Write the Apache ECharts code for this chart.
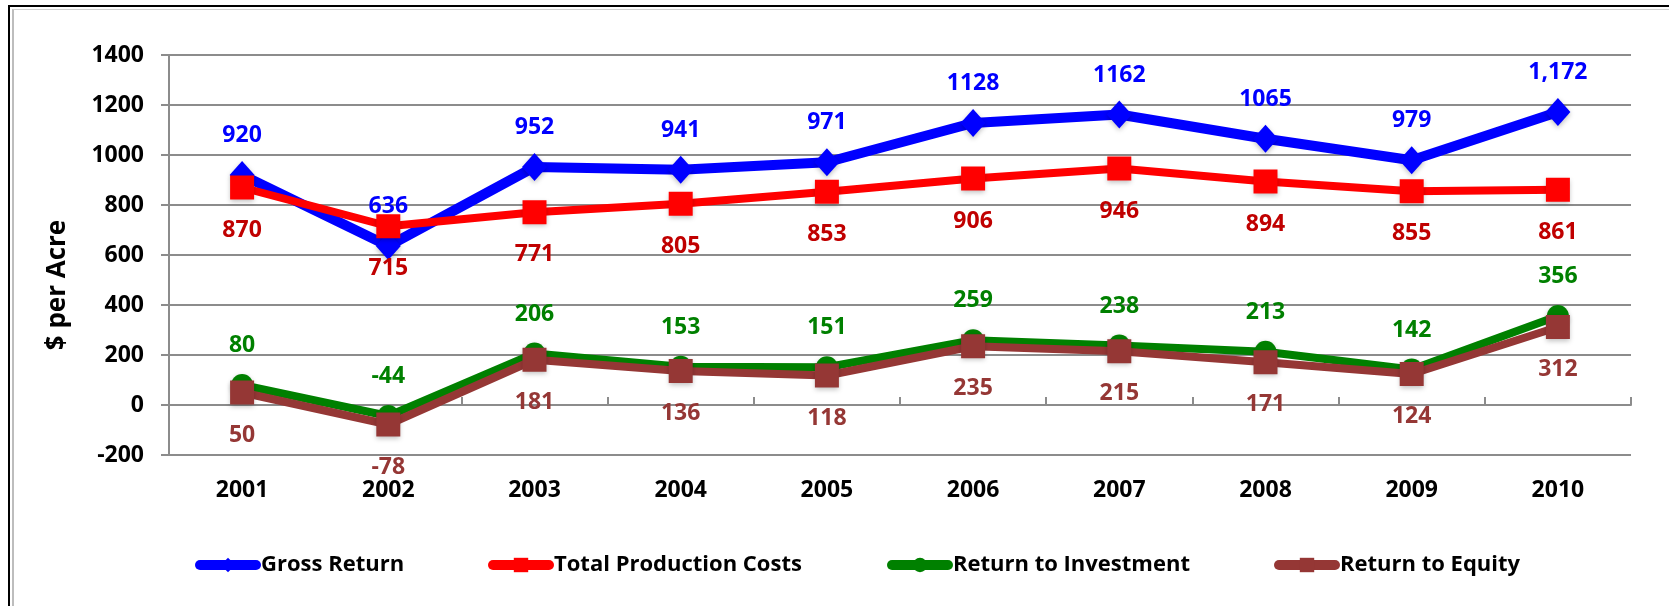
<!DOCTYPE html>
<html>
<head>
<meta charset="utf-8">
<script src="https://cdn.jsdelivr.net/npm/echarts@6/dist/echarts.min.js"></script>
<style>
  html, body { margin: 0; padding: 0; background: #fff; }
  #main { width: 1669px; height: 606px; }
  .frame { position: absolute; pointer-events: none; }
  #outer { left: 8px; top: 5px; width: 1700px; height: 700px; border-left: 2.5px solid #000; border-top: 2px solid #000; }
  #inner { left: 12px; top: 9px; width: 1700px; height: 700px; border-left: 2px solid #bdbdbd; border-top: 1px solid #d0d0d0; }
</style>
</head>
<body>
<div id="main"></div>
<div id="outer" class="frame"></div>
<div id="inner" class="frame"></div>
<script>
// 每亩收益与成本 2001-2010
var years = ['2001', '2002', '2003', '2004', '2005', '2006', '2007', '2008', '2009', '2010'];
var grossReturn = [920, 636, 952, 941, 971, 1128, 1162, 1065, 979, 1172];
var grossLabels = ['920', '636', '952', '941', '971', '1128', '1162', '1065', '979', '1,172'];
var productionCosts = [870, 715, 771, 805, 853, 906, 946, 894, 855, 861];
var returnInvestment = [80, -44, 206, 153, 151, 259, 238, 213, 142, 356];
var returnEquity = [50, -78, 181, 136, 118, 235, 215, 171, 124, 312];

var font = '"Open Sans", Lato, sans-serif';
var gridGray = '#8c8c8c';

var chartDom = document.getElementById('main');
var myChart = echarts.init(chartDom);

function mkLegend(name, left, color) {
  return {
    data: [name],
    left: left,
    top: 554,
    padding: 0,
    itemWidth: 56,
    itemHeight: 18,
    itemGap: 0,
    lineStyle: { width: 10, color: color, cap: 'round' },
    textStyle: { fontFamily: font, fontWeight: 'bold', fontSize: 22, color: '#000' }
  };
}

function mkLabel(color, pos, dist) {
  return {
    show: true,
    position: pos,
    distance: dist,
    color: color,
    fontFamily: font,
    fontWeight: 'bold',
    fontSize: 23
  };
}

var shadow = { shadowColor: 'rgba(0,0,0,0.25)', shadowBlur: 5, shadowOffsetY: 2 };

var option = {
  animation: false,
  grid: { left: 169, right: 38, top: 55, bottom: 151 },
  legend: [
    mkLegend('Gross Return', 195, '#0000ff'),
    mkLegend('Total Production Costs', 488, '#ff0000'),
    mkLegend('Return to Investment', 887, '#008000'),
    mkLegend('Return to Equity', 1274, '#953735')
  ],
  xAxis: [
    {
      type: 'category',
      data: years,
      axisLine: { show: false, onZero: false },
      axisTick: { show: false },
      axisLabel: { margin: 24, color: '#000', fontFamily: font, fontWeight: 'bold', fontSize: 23 }
    },
    {
      type: 'category',
      data: years,
      axisLine: { show: true, onZero: true, lineStyle: { color: gridGray, width: 2 } },
      axisTick: { show: true, length: 8, lineStyle: { color: gridGray, width: 2 } },
      axisLabel: { show: false }
    }
  ],
  yAxis: {
    type: 'value',
    min: -200,
    max: 1400,
    interval: 200,
    name: '$ per Acre',
    nameLocation: 'middle',
    nameGap: 98,
    nameRotate: 90,
    nameTextStyle: { color: '#000', fontFamily: font, fontWeight: 'bold', fontSize: 26, padding: [0, 60, 0, 0] },
    axisLine: { show: true, lineStyle: { color: gridGray, width: 2 } },
    axisTick: { show: true, length: 8, lineStyle: { color: gridGray, width: 2 } },
    axisLabel: {
      margin: 25, color: '#000', fontFamily: font, fontWeight: 'bold', fontSize: 23,
      formatter: function (v) { return String(v); }
    },
    splitLine: { lineStyle: { color: gridGray, width: 2 } }
  },
  series: [
    {
      name: 'Gross Return',
      type: 'line',
      data: grossReturn,
      symbol: 'diamond',
      symbolSize: [25, 28],
      lineStyle: { color: '#0000ff', width: 10 },
      itemStyle: Object.assign({ color: '#0000ff' }, shadow),
      label: Object.assign(mkLabel('#0000ff', 'top', 14), {
        formatter: function (p) { return grossLabels[p.dataIndex]; }
      }),
      z: 2
    },
    {
      name: 'Total Production Costs',
      type: 'line',
      data: productionCosts,
      symbol: 'rect',
      symbolSize: 24,
      lineStyle: { color: '#ff0000', width: 8 },
      itemStyle: Object.assign({ color: '#ff0000' }, shadow),
      label: mkLabel('#c00000', 'bottom', 19),
      z: 3
    },
    {
      name: 'Return to Investment',
      type: 'line',
      data: returnInvestment,
      symbol: 'circle',
      symbolSize: 22,
      lineStyle: { color: '#008000', width: 8 },
      itemStyle: Object.assign({ color: '#008000' }, shadow),
      label: mkLabel('#008000', 'top', 17),
      z: 4
    },
    {
      name: 'Return to Equity',
      type: 'line',
      data: returnEquity,
      symbol: 'rect',
      symbolSize: 24,
      lineStyle: { color: '#953735', width: 8 },
      itemStyle: Object.assign({ color: '#953735' }, shadow),
      label: mkLabel('#953735', 'bottom', 19),
      z: 5
    }
  ]
};

myChart.setOption(option);
</script>
</body>
</html>
